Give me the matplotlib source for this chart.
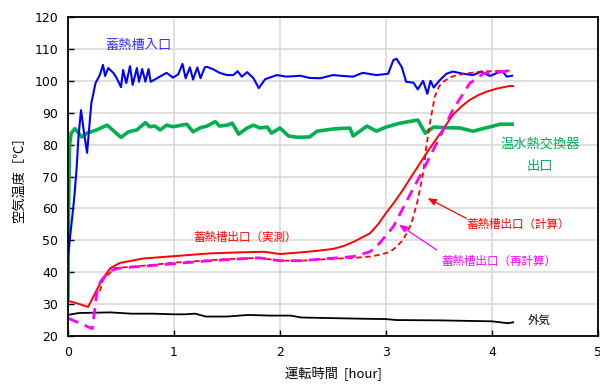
import matplotlib
matplotlib.use("Agg")
import matplotlib.pyplot as plt

plt.rcParams['font.family'] = ['DejaVu Sans', 'Noto Sans CJK JP']
JP = ['Noto Sans CJK JP', 'DejaVu Sans']

# 蓄熱槽入口
t_in = [0, 0.057, 0.08, 0.1, 0.123, 0.15, 0.18, 0.22, 0.26, 0.3, 0.33, 0.35, 0.38, 0.43, 0.46,
        0.5, 0.52, 0.55, 0.585, 0.61, 0.65, 0.67, 0.7, 0.73, 0.76, 0.78, 0.84, 0.93, 0.99, 1.04,
        1.08, 1.11, 1.15, 1.18, 1.22, 1.25, 1.29, 1.31, 1.37, 1.43, 1.5, 1.56, 1.6, 1.64, 1.69,
        1.75, 1.8, 1.86, 1.97, 2.06, 2.16, 2.19, 2.28, 2.38, 2.5, 2.6, 2.69, 2.78, 2.91, 3.02,
        3.07, 3.1, 3.15, 3.19, 3.26, 3.3, 3.35, 3.39, 3.42, 3.45, 3.51, 3.57, 3.63, 3.73, 3.82,
        3.9, 3.98, 4.05, 4.1, 4.14, 4.19]
v_in = [45, 62.6, 72, 83, 90.8, 84, 77.4, 93, 99.3, 101.8, 105, 101.5, 104, 102.4, 100.8,
        98, 103.4, 99.3, 104.6, 98.7, 104, 99.7, 103.7, 99.7, 103.7, 99.7, 100.8, 102.5, 101, 102,
        105.3, 100.8, 104.2, 100.4, 104.2, 100.8, 104.2, 104.4, 103.6, 102.5, 101.8, 101.8, 103, 101.3, 102.7,
        100.8, 97.7, 100.5, 101.8, 101.3, 101.5, 101.6, 100.9, 100.8, 101.8, 101.5, 101.3, 102.5, 101.8, 102.2,
        106.5, 106.9, 104.2, 99.7, 99.4, 97.3, 100, 95.9, 100, 97.9, 100.3, 102.2, 102.9, 102.2, 101.8,
        102.9, 101.5, 102.5, 102.9, 101.3, 101.6]

# 温水熱交換器出口
t_hx = [0, 0.005, 0.015, 0.03, 0.066, 0.13, 0.18, 0.27, 0.37, 0.44, 0.5, 0.57, 0.65, 0.73, 0.77,
        0.82, 0.87, 0.93, 0.99, 1.12, 1.18, 1.25, 1.31, 1.39, 1.43, 1.5, 1.55, 1.61, 1.69, 1.75,
        1.81, 1.88, 1.92, 2.0, 2.08, 2.16, 2.28, 2.35, 2.5, 2.66, 2.69, 2.82, 2.91, 3.0, 3.13,
        3.3, 3.37, 3.45, 3.57, 3.7, 3.82, 3.95, 4.08, 4.19]
v_hx = [32, 60, 80, 83.6, 85, 82.4, 83.6, 84.6, 86.1, 84, 82.3, 84, 84.6, 86.9, 85.6,
        85.8, 84.6, 86.1, 85.6, 86.4, 84, 85.3, 85.8, 87.2, 85.8, 86.1, 86.7, 83.3, 85.2, 86.1,
        85.2, 85.5, 83.6, 85.2, 82.7, 82.3, 82.4, 84.2, 84.9, 85.2, 82.7, 85.8, 84.2, 85.5, 86.7,
        87.7, 83.6, 85.5, 85.3, 85.2, 84.2, 85.3, 86.4, 86.4]

# 蓄熱槽出口（実測）
t_meas = [0, 0.08, 0.19, 0.25, 0.32, 0.4, 0.49, 0.71, 0.99, 1.34, 1.6, 1.85, 2.0, 2.19, 2.35,
          2.5, 2.6, 2.7, 2.78, 2.85, 2.93, 3.0, 3.08, 3.16, 3.24, 3.32, 3.4, 3.48, 3.56, 3.63,
          3.71, 3.79, 3.87, 3.95, 4.05, 4.17, 4.2]
v_meas = [31, 30.3, 29.1, 33, 37.6, 41.3, 42.9, 44.3, 45.0, 45.9, 46.2, 46.4, 45.7, 46.2, 46.7,
          47.3, 48.2, 49.6, 51.0, 52.2, 55.2, 58.5, 62.0, 65.8, 70.0, 74.1, 78.2, 82.0, 85.8, 89.3,
          91.9, 94.0, 95.5, 96.6, 97.6, 98.4, 98.3]

# 蓄熱槽出口（計算）
t_calc = [0.3, 0.33, 0.44, 0.7, 1.0, 1.5, 1.8, 2.0, 2.2, 2.5, 2.7, 2.85, 2.95, 3.04, 3.1, 3.16,
          3.2, 3.24, 3.3, 3.35, 3.38, 3.42, 3.46, 3.5, 3.54, 3.6, 3.67, 3.78, 3.89, 4.17]
v_calc = [34, 37.6, 41.3, 42, 43, 44.1, 44.5, 43.6, 43.6, 44.2, 44.5, 44.9, 45.5, 46.4, 48, 50.1,
          52.5, 55.3, 62.6, 71, 79.3, 87.7, 95, 98.2, 99.7, 101, 101.8, 102.4, 102.9, 103.2]

# 蓄熱槽出口（再計算）
t_recalc = [0, 0.23, 0.28, 0.32, 0.4, 0.49, 0.87, 1.34, 1.8, 2.0, 2.2, 2.5, 2.69, 2.85, 2.94,
            3.07, 3.2, 3.35, 3.51, 3.63, 3.79, 3.92, 4.1, 4.19]
v_recalc = [25.6, 22.3, 35.5, 37.6, 40.5, 41.3, 42.3, 43.6, 44.5, 43.6, 43.6, 44.4, 44.9, 46.4, 49.1,
            54.3, 62.6, 72, 82.5, 90.8, 99.2, 102.3, 102.9, 103.2]

# 外気
t_out = [0, 0.1, 0.4, 0.6, 0.8, 1.0, 1.1, 1.2, 1.3, 1.5, 1.7, 1.9, 2.1, 2.2, 2.5, 2.8, 3.0,
         3.1, 3.5, 4.0, 4.15, 4.2]
v_out = [26.6, 27.2, 27.4, 27, 27, 26.8, 26.8, 27, 26.1, 26.1, 26.6, 26.4, 26.4, 25.8, 25.6, 25.4, 25.3,
         25, 24.9, 24.6, 24, 24.3]

x_ticks = [0, 1, 2, 3, 4, 5]
y_ticks = [20, 30, 40, 50, 60, 70, 80, 90, 100, 110, 120]

fig = plt.figure(figsize=(6.0, 3.88), dpi=100)
ax = fig.add_axes([68/600, 1-336/388, 530/600, 319/388])

ax.plot(t_out, v_out, color='black', lw=1.3)
ax.plot(t_hx, v_hx, color='#00b050', lw=2.6)
ax.plot(t_in, v_in, color='#0000ff', lw=1.5)
ax.plot(t_meas, v_meas, color='#ff0000', lw=1.4)
ax.plot(t_calc, v_calc, color='#ff0000', lw=1.3, dashes=(3, 2))
ax.plot(t_recalc, v_recalc, color='#ff00ff', lw=2.0, dashes=(4, 2.5))

ax.set_xlim(0, 5)
ax.set_ylim(20, 120)
ax.set_xticks(x_ticks)
ax.set_yticks(y_ticks)
ax.grid(True, color='#d9d9d9', lw=1.2)
ax.set_axisbelow(True)
ax.tick_params(direction='in', length=4, width=1, labelsize=9, pad=7, colors='black')
for s in ax.spines.values():
    s.set_linewidth(1.3)
    s.set_color('black')

ax.set_xlabel('運転時間  [hour]', family=JP, fontsize=9.5, labelpad=6)
ax.set_ylabel('空気温度［℃］', family=JP, fontsize=9.5, labelpad=6)

ax.text(0.35, 111, '蓄熱槽入口', color='#3333ff', family=JP, fontsize=9.5, va='center')
ax.text(4.08, 80.2, '温水熱交換器', color='#00b050', family=JP, fontsize=9.5, va='center')
ax.text(4.33, 73, '出口', color='#00b050', family=JP, fontsize=9.5, va='center')
ax.text(1.18, 50.8, '蓄熱槽出口（実測）', color='#ff0000', family=JP, fontsize=8.3, va='center')
ax.text(3.76, 55, '蓄熱槽出口（計算）', color='#ff0000', family=JP, fontsize=8.3, va='center')
ax.text(3.52, 43.5, '蓄熱槽出口（再計算）', color='#ff00ff', family=JP, fontsize=8.3, va='center')
ax.text(4.34, 24.9, '外気', color='black', family=JP, fontsize=8.3, va='center')

ax.annotate('', xy=(3.37, 63.6), xytext=(3.78, 56.5),
            arrowprops=dict(arrowstyle='-|>,head_length=0.5,head_width=0.2', color='#ff0000', lw=0.9))
ax.annotate('', xy=(3.1, 55.4), xytext=(3.5, 46.5),
            arrowprops=dict(arrowstyle='-|>,head_length=0.5,head_width=0.2', color='#ff00ff', lw=0.9))

fig.savefig('out.png', dpi=100)
